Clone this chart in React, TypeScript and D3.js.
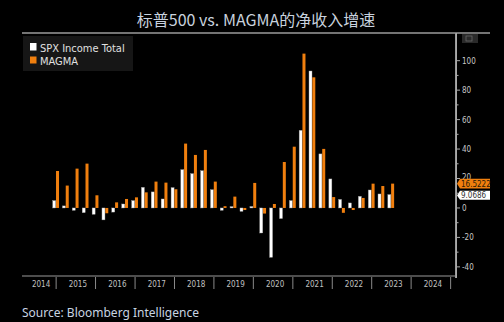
import React from "react";
import * as d3 from "d3";

const quarters = [
  "2014-12-31","2015-03-31","2015-06-30","2015-09-30","2015-12-31",
  "2016-03-31","2016-06-30","2016-09-30","2016-12-31",
  "2017-03-31","2017-06-30","2017-09-30","2017-12-31",
  "2018-03-31","2018-06-30","2018-09-30","2018-12-31",
  "2019-03-31","2019-06-30","2019-09-30","2019-12-31",
  "2020-03-31","2020-06-30","2020-09-30","2020-12-31",
  "2021-03-31","2021-06-30","2021-09-30","2021-12-31",
  "2022-03-31","2022-06-30","2022-09-30","2022-12-31",
  "2023-03-31","2023-06-30",
];
const spxIncome = [5.0,1.4,-1.6,-3.2,-4.3,-8.1,-2.8,2.7,5.0,14.0,10.9,6.1,13.8,26.0,23.3,25.3,12.4,-1.6,0.9,-2.3,1.0,-17.0,-33.5,-7.2,5.0,52.7,93.0,36.7,19.7,5.8,3.4,7.9,12.2,9.5,9.0686];
const magma = [25.1,15.2,26.7,30.1,8.6,-3.6,3.8,6.1,7.2,10.6,17.9,17.2,12.7,43.7,36.0,39.4,17.9,1.2,7.7,-1.4,17.0,-3.8,2.7,31.2,41.6,104.8,88.7,40.1,7.4,-3.3,-1.4,6.8,16.5,14.9,16.5222];
const yearLabels = ["2014","2015","2016","2017","2018","2019","2020","2021","2022","2023","2024"];
const yTicks = [-40,-20,0,20,40,60,80,100];
const yMinorTicks = [-30,-10,10,30,50,70,90];
const lastSpxLabel = "9.0686";
const lastMagmaLabel = "16.5222";

const W = 504, H = 322;
const plotL = 22, plotR = 455.5, plotT = 33, plotB = 276;
const ORANGE = "#f07f0e";
const AX_FONT = "'DejaVu Sans Condensed', 'Liberation Sans', sans-serif";

export default function App() {
  const parse = d3.timeParse("%Y-%m-%d");
  const dates = quarters.map((q) => parse(q) as Date);
  const x = d3.scaleTime()
    .domain([new Date(2014, 1, 19), new Date(2025, 1, 15)])
    .range([plotL, plotR]);
  const y = d3.scaleLinear().domain([-46.2, 118.8]).range([276, 33]);
  const bw = 3.3;

  const yearBounds = yearLabels.map((yr) => {
    const a = Math.max(x(new Date(+yr, 0, 1)), plotL);
    const b = Math.min(x(new Date(+yr + 1, 0, 1)), plotR);
    return { yr, a, b, sep: x(new Date(+yr + 1, 0, 1)) };
  });

  const ySpx = y(spxIncome[spxIncome.length - 1]);
  const yMag = y(magma[magma.length - 1]);

  return (
    <svg width={W} height={H} style={{ position: "absolute", left: 0, top: 0, background: "#000" }}>
      <rect x={0} y={0} width={W} height={H} fill="#000" />
      <text x={256} y={26} textAnchor="middle" fill="#c8d2de" fontSize={16}
        fontFamily="'Noto Sans CJK SC', 'Noto Sans', sans-serif">标普500 vs. MAGMA的净收入增速</text>

      {/* frame */}
      <line x1={plotL} x2={490} y1={plotT} y2={plotT} stroke="#e8e8e8" strokeWidth={1} />
      <line x1={plotL} x2={plotR} y1={plotB} y2={plotB} stroke="#9a9a9a" strokeWidth={1} />
      <line x1={plotR} x2={plotR} y1={plotT} y2={plotB + 2} stroke="#9a9a9a" strokeWidth={1} />
      <rect x={462} y={34} width={16} height={9} fill="#2a2a2a" />
      <rect x={466} y={36} width={6} height={5} fill="none" stroke="#666" strokeWidth={0.8} />

      {/* bars */}
      {dates.map((d, i) => {
        const cx = x(d);
        const v = spxIncome[i];
        return (
          <rect key={"s" + i} x={cx - bw} width={bw - 0.3}
            y={Math.min(y(v), y(0))} height={Math.max(Math.abs(y(v) - y(0)), 0.8)}
            fill="#ffffff" stroke="#9a9a9a" strokeWidth={0.4} />
        );
      })}
      {dates.map((d, i) => {
        const cx = x(d);
        const v = magma[i];
        return (
          <rect key={"m" + i} x={cx} width={bw - 0.3}
            y={Math.min(y(v), y(0))} height={Math.max(Math.abs(y(v) - y(0)), 0.8)}
            fill={ORANGE} />
        );
      })}

      {/* right axis */}
      <line x1={456.5} x2={456.5} y1={plotT} y2={plotB + 2} stroke="#aaaaaa" strokeWidth={1} />
      {yTicks.map((t) => (
        <g key={"t" + t}>
          <line x1={456.5} x2={460} y1={y(t)} y2={y(t)} stroke="#aaaaaa" />
          <text x={462} y={y(t) + (t === 20 ? 1 : 3)} fill="#c8c8c8" fontSize={8}
            fontFamily={AX_FONT}>{t}</text>
        </g>
      ))}
      {yMinorTicks.map((t) => (
        <line key={"mt" + t} x1={456.5} x2={458.5} y1={y(t)} y2={y(t)} stroke="#aaaaaa" />
      ))}

      {/* last value tags */}
      <path d={`M457,${yMag} L460,${yMag - 4.8} L490,${yMag - 4.8} L490,${yMag + 4.8} L460,${yMag + 4.8} Z`} fill={ORANGE} />
      <text x={461} y={yMag + 3} fill="#2a1a08" fontSize={8}
        fontFamily={AX_FONT}>{lastMagmaLabel}</text>
      <path d={`M457,${ySpx + 0.8} L460,${ySpx - 3.8} L490,${ySpx - 3.8} L490,${ySpx + 5.2} L460,${ySpx + 5.2} Z`} fill="#ffffff" />
      <text x={461} y={ySpx + 3.8} fill="#333" fontSize={8}
        fontFamily={AX_FONT}>{lastSpxLabel}</text>

      {/* x axis */}
      {yearBounds.map(({ yr, a, b, sep }) => (
        <g key={yr}>
          <text x={(a + b) / 2 + 2} y={287} textAnchor="middle" fill="#c0c0c0" fontSize={8}
            fontFamily={AX_FONT}>{yr}</text>
          {sep <= plotR ? <line x1={sep} x2={sep} y1={277} y2={289} stroke="#8a8a8a" /> : null}
        </g>
      ))}

      {/* legend */}
      <rect x={23} y={36} width={110} height={35} fill="#161616" />
      <rect x={30} y={43} width={6.5} height={7.5} fill="#ffffff" />
      <text x={40} y={51.5} fill="#e0e0e0" fontSize={11}
        fontFamily={AX_FONT}>SPX Income Total</text>
      <rect x={30} y={56.5} width={6.5} height={7} fill={ORANGE} />
      <text x={40} y={64.5} fill="#e0e0e0" fontSize={11}
        fontFamily={AX_FONT}>MAGMA</text>

      <text x={22} y={317} fill="#c8d4e2" fontSize={12}
        fontFamily="'Noto Sans', sans-serif">Source: Bloomberg Intelligence</text>
    </svg>
  );
}
